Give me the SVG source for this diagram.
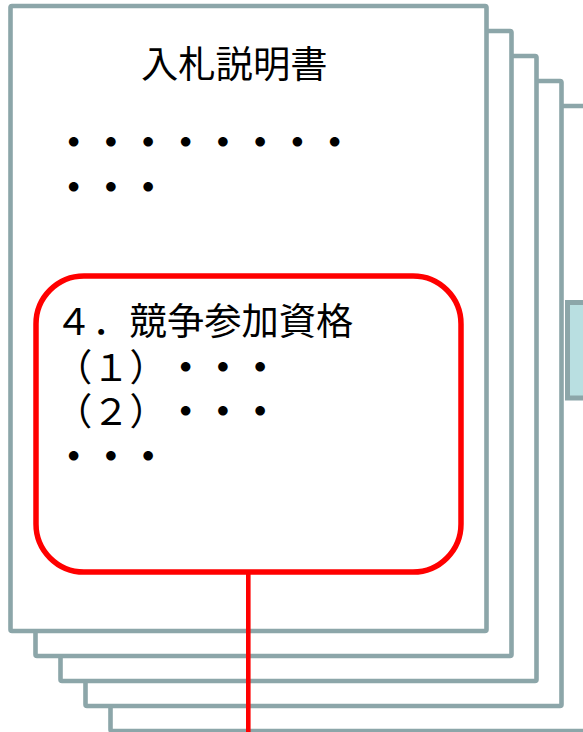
<svg xmlns="http://www.w3.org/2000/svg" width="583" height="732" viewBox="0 0 583 732">
<style>
.page{fill:#ffffff;stroke:#8CA6A9;stroke-width:4.6;stroke-linejoin:round}
.tab{fill:#B9DFE1;stroke:#8CA6A9;stroke-width:5}
.t{font-family:"Noto Sans CJK JP","Noto Sans CJK SC",sans-serif;font-size:37.3px;fill:#000000;text-spacing-trim:space-all}
.d{font-weight:700}
.hl{fill:none;stroke:#FF0000;stroke-width:5.5}
.conn{stroke:#FF0000;stroke-width:4.6;fill:none}
</style>
<rect width="583" height="732" fill="#ffffff"/>
<g id="page5"><rect class="page" x="110.5" y="106" width="476" height="625" rx="1.5"/></g>
<g id="page5-tab"><rect class="tab" x="567.5" y="302.5" width="30" height="95.5"/></g>
<g id="page4"><rect class="page" x="85.5" y="81" width="476" height="625" rx="1.5"/></g>
<g id="page3"><rect class="page" x="60.5" y="56" width="476" height="625" rx="1.5"/></g>
<g id="page2"><rect class="page" x="35.5" y="31" width="476" height="625" rx="1.5"/></g>
<g id="page1">
<rect class="page" x="10.5" y="6" width="476" height="625" rx="1.5"/>
<text class="t" x="141" y="78">入札説明書</text>
<text class="t d" x="55" y="156">・・・・・・・・</text>
<text class="t d" x="55" y="201">・・・</text>
</g>
<g id="section4">
<rect class="hl" x="36" y="276" width="425" height="296" rx="48"/>
<text class="t" x="55" y="335">４．競争参加資格</text>
<text class="t" x="55" y="381">（１）<tspan class="d" x="167">・・・</tspan></text>
<text class="t" x="55" y="425">（２）<tspan class="d" x="167">・・・</tspan></text>
<text class="t d" x="55" y="470">・・・</text>
</g>
<g id="connectors">
<line class="conn" x1="248.3" y1="574" x2="248.3" y2="732"/>
</g>
</svg>
